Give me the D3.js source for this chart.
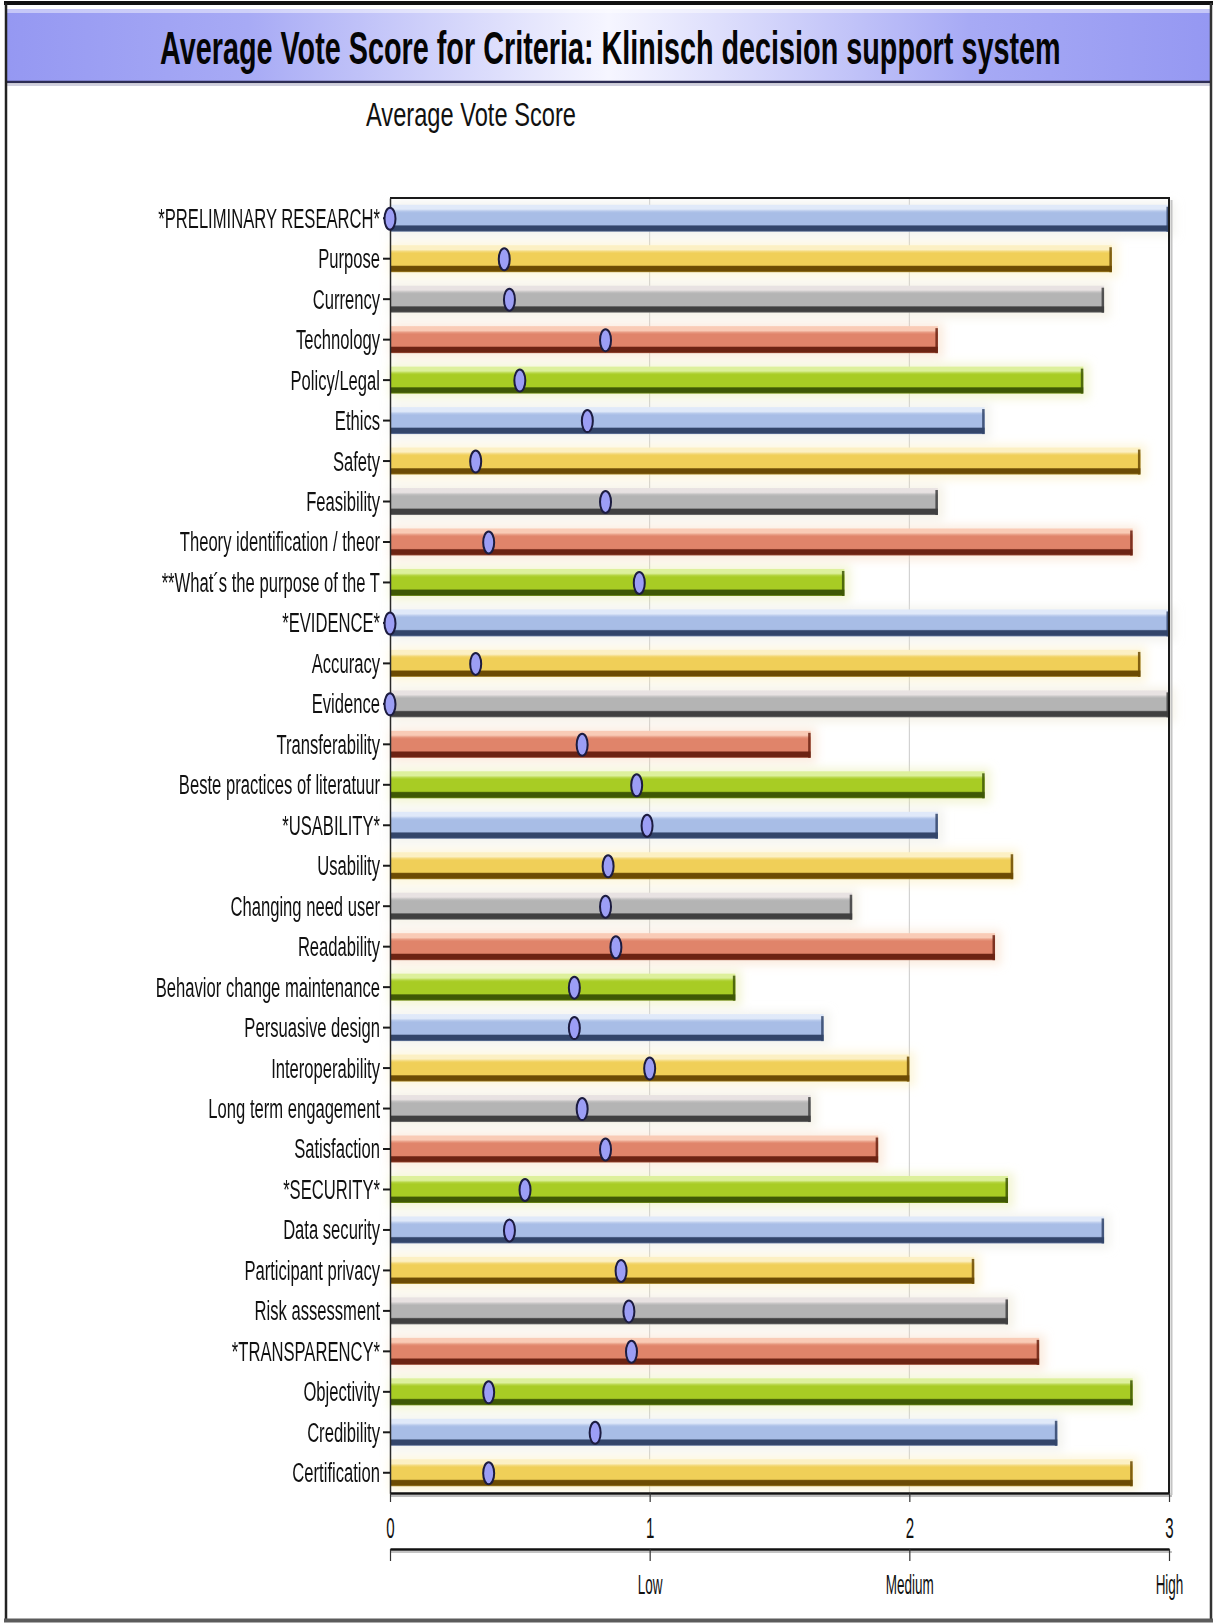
<!DOCTYPE html>
<html>
<head>
<meta charset="utf-8">
<script src="https://cdn.jsdelivr.net/npm/d3@7"></script>
<style>
  html, body { margin: 0; padding: 0; background: #ffffff; }
  svg { display: block; }
</style>
</head>
<body>
<svg id="chart" width="1217" height="1623"></svg>
<script>
// Criteria names, top to bottom
const categories = [
  "*PRELIMINARY RESEARCH*", "Purpose", "Currency", "Technology", "Policy/Legal",
  "Ethics", "Safety", "Feasibility", "Theory identification / theor",
  "**What\u00b4s the purpose of the T", "*EVIDENCE*", "Accuracy", "Evidence",
  "Transferability", "Beste practices of literatuur", "*USABILITY*", "Usability",
  "Changing need user", "Readability", "Behavior change maintenance",
  "Persuasive design", "Interoperability", "Long term engagement", "Satisfaction",
  "*SECURITY*", "Data security", "Participant privacy", "Risk assessment",
  "*TRANSPARENCY*", "Objectivity", "Credibility", "Certification"
];

// Average vote score per criterion (bar length)
const barScores = [
  3.00, 2.78, 2.75, 2.11, 2.67, 2.29, 2.89, 2.11, 2.86, 1.75,
  3.00, 2.89, 3.00, 1.62, 2.29, 2.11, 2.40, 1.78, 2.33, 1.33,
  1.67, 2.00, 1.62, 1.88, 2.38, 2.75, 2.25, 2.38, 2.50, 2.86,
  2.57, 2.86
];

// Secondary value per criterion (oval marker)
const dotScores = [
  0.00, 0.44, 0.46, 0.83, 0.50, 0.76, 0.33, 0.83, 0.38, 0.96,
  0.00, 0.33, 0.00, 0.74, 0.95, 0.99, 0.84, 0.83, 0.87, 0.71,
  0.71, 1.00, 0.74, 0.83, 0.52, 0.46, 0.89, 0.92, 0.93, 0.38,
  0.79, 0.38
];

// Axis ticks and the verbal scale underneath
const xTicks = [0, 1, 2, 3];
const levelLabels = ["", "Low", "Medium", "High"];

const titleText = "Average Vote Score for Criteria: Klinisch decision support system";
const subtitleText = "Average Vote Score";

// Bar colour cycle: highlight / body / shaded edge
const palette = [
  { light: "#e0e9f9", main: "#a8bde6", dark: "#33456a" },
  { light: "#fcf0c4", main: "#f0cf58", dark: "#6c4b04" },
  { light: "#e8e2e2", main: "#b4b4b4", dark: "#404040" },
  { light: "#f9cbb6", main: "#e0846a", dark: "#6c2313" },
  { light: "#ddf09c", main: "#a8cc24", dark: "#3f5805" }
];

const FONT = "'Liberation Sans', Arial, sans-serif";
const svg = d3.select("#chart");
const defs = svg.append("defs");

// Draw a text squeezed horizontally so that it spans exactly `width` pixels
function fitText(sel, str, x, y, width, attrs) {
  const t = sel.append("text").attr("x", 0).attr("y", 0);
  Object.entries(attrs).forEach(([k, v]) => t.attr(k, v));
  t.text(str);
  const natural = t.node().getComputedTextLength();
  t.attr("transform", `translate(${x},${y}) scale(${width / natural},1)`);
  return t;
}

// ---- frame and title band ----
const bandGrad = defs.append("linearGradient").attr("id", "titleBand")
  .attr("x1", 0).attr("x2", 1).attr("y1", 0).attr("y2", 0);
[[0, "#9598f2"], [0.2, "#a7aaf5"], [0.5, "#f6f6ff"], [0.8, "#a7aaf5"], [1, "#9598f2"]]
  .forEach(([o, c]) => bandGrad.append("stop").attr("offset", o).attr("stop-color", c));

svg.append("rect").attr("x", 7).attr("y", 9).attr("width", 1203).attr("height", 73)
  .attr("fill", "url(#titleBand)");
svg.append("rect").attr("x", 7).attr("y", 9).attr("width", 1203).attr("height", 4)
  .attr("fill", "#ffffff").attr("opacity", 0.45);
svg.append("line").attr("x1", 7).attr("x2", 1210).attr("y1", 82).attr("y2", 82)
  .attr("stroke", "#2d2d55").attr("stroke-width", 2.5);
svg.append("line").attr("x1", 7).attr("x2", 1210).attr("y1", 85).attr("y2", 85)
  .attr("stroke", "#9a9ab8").attr("stroke-width", 1.5).attr("opacity", 0.6);

// outer border
svg.append("line").attr("x1", 4).attr("x2", 1213).attr("y1", 3).attr("y2", 3)
  .attr("stroke", "#111").attr("stroke-width", 4);
svg.append("line").attr("x1", 6).attr("x2", 6).attr("y1", 3).attr("y2", 1621)
  .attr("stroke", "#222").attr("stroke-width", 2.5);
svg.append("line").attr("x1", 1211).attr("x2", 1211).attr("y1", 3).attr("y2", 1621)
  .attr("stroke", "#333").attr("stroke-width", 2.5);
svg.append("line").attr("x1", 4).attr("x2", 1213).attr("y1", 1620.5).attr("y2", 1620.5)
  .attr("stroke", "#5c5c5c").attr("stroke-width", 4);

fitText(svg, titleText, 160, 64, 901, {
  "font-family": FONT, "font-weight": "bold", "font-size": 46, "fill": "#050505"
});
fitText(svg, subtitleText, 366, 126, 210, {
  "font-family": FONT, "font-size": 33, "fill": "#111"
});

// ---- scales ----
const plot = { left: 390, right: 1169, top: 198, bottom: 1493 };
const x = d3.scaleLinear().domain([0, 3]).range([plot.left, plot.right]);
const y = d3.scaleBand().domain(categories).range([plot.top, plot.bottom])
  .paddingInner(0.333).paddingOuter(0.1665);
const bw = y.bandwidth();

const rows = categories.map((c, i) => ({
  name: c, bar: barScores[i], dot: dotScores[i], col: palette[i % palette.length], k: i % palette.length
}));

// ---- gradients and soft glow ----
palette.forEach((p, k) => {
  const g = defs.append("linearGradient").attr("id", "barGrad" + k)
    .attr("x1", 0).attr("x2", 0).attr("y1", 0).attr("y2", 1);
  const body = d3.interpolateRgb(p.main, p.light)(0.25);
  [[0, p.light], [0.16, p.light], [0.24, body], [0.30, p.main], [0.74, p.main],
   [0.79, p.dark], [0.95, p.dark], [1, d3.interpolateRgb(p.dark, p.main)(0.5)]]
    .forEach(([o, c]) => g.append("stop").attr("offset", o).attr("stop-color", c));
});
const blur = defs.append("filter").attr("id", "glow")
  .attr("x", "-5%").attr("y", "-60%").attr("width", "110%").attr("height", "220%");
blur.append("feGaussianBlur").attr("stdDeviation", 5);

// ---- grid ----
svg.append("g").selectAll("line").data([1, 2]).join("line")
  .attr("x1", d => x(d)).attr("x2", d => x(d))
  .attr("y1", plot.top).attr("y2", plot.bottom)
  .attr("stroke", "#c9c9c9").attr("stroke-width", 1);

// glow behind bars
svg.append("g").attr("filter", "url(#glow)").selectAll("rect").data(rows).join("rect")
  .attr("x", x(0))
  .attr("y", d => y(d.name) - 3)
  .attr("width", d => x(d.bar) - x(0) + 6)
  .attr("height", bw + 8)
  .attr("fill", d => d3.interpolateRgb(d.col.main, "#fff6d8")(0.7))
  .attr("opacity", 0.45);

// bars
const bars = svg.append("g");
bars.selectAll("rect.bar").data(rows).join("rect").attr("class", "bar")
  .attr("x", x(0)).attr("y", d => y(d.name))
  .attr("width", d => x(d.bar) - x(0)).attr("height", bw)
  .attr("fill", d => `url(#barGrad${d.k})`);
// shaded end cap
bars.selectAll("rect.cap").data(rows).join("rect").attr("class", "cap")
  .attr("x", d => x(d.bar) - 2.5).attr("y", d => y(d.name) + 2)
  .attr("width", 2.5).attr("height", bw - 2)
  .attr("fill", d => d.col.dark).attr("opacity", 0.85);

// ---- plot frame (top and right) ----
svg.append("line").attr("x1", plot.right + 2.5).attr("x2", plot.right + 2.5)
  .attr("y1", plot.top + 2).attr("y2", plot.bottom + 2)
  .attr("stroke", "#c4c4c4").attr("stroke-width", 2);
svg.append("path")
  .attr("d", `M${plot.left},${plot.top}H${plot.right}V${plot.bottom}`)
  .attr("fill", "none").attr("stroke", "#1a1a1a").attr("stroke-width", 2);

// ---- left axis ----
const labelScale = 0.615;
const yAxis = svg.append("g").attr("transform", `translate(${plot.left},0)`)
  .call(d3.axisLeft(y).tickSize(7).tickSizeOuter(0).tickPadding(3));
yAxis.select(".domain").attr("stroke", "#2a2a2a").attr("stroke-width", 1.5);
yAxis.selectAll(".tick line").attr("stroke", "#1a1a1a").attr("stroke-width", 2);
yAxis.selectAll(".tick text")
  .attr("font-family", FONT).attr("font-size", 27).attr("fill", "#111")
  .attr("x", -10 / labelScale).attr("dy", "0.35em")
  .attr("transform", `scale(${labelScale},1)`);

// ---- bottom numeric axis ----
svg.append("line")
  .attr("x1", plot.left).attr("x2", plot.right + 3)
  .attr("y1", plot.bottom + 3).attr("y2", plot.bottom + 3)
  .attr("stroke", "#bdbdbd").attr("stroke-width", 2);
const xAxis = svg.append("g").attr("transform", `translate(0,${plot.bottom})`)
  .call(d3.axisBottom(x).tickValues(xTicks).tickSize(9).tickSizeOuter(0).tickFormat(d3.format("d")));
xAxis.select(".domain").attr("stroke", "#111").attr("stroke-width", 2.5);
xAxis.selectAll(".tick line").attr("stroke", "#333").attr("stroke-width", 1.2);
xAxis.selectAll(".tick text")
  .attr("font-family", FONT).attr("font-size", 29).attr("fill", "#111")
  .attr("y", 45).attr("dy", 0)
  .attr("transform", "scale(0.52,1)");

// ---- bottom verbal scale ----
const levelY = 1549;
svg.append("line")
  .attr("x1", plot.left).attr("x2", plot.right + 3)
  .attr("y1", levelY + 3).attr("y2", levelY + 3)
  .attr("stroke", "#c4c4c4").attr("stroke-width", 2);
const lAxis = svg.append("g").attr("transform", `translate(0,${levelY})`)
  .call(d3.axisBottom(x).tickValues(xTicks).tickSize(12).tickSizeOuter(0)
    .tickFormat((d, i) => levelLabels[i]));
lAxis.select(".domain").attr("stroke", "#111").attr("stroke-width", 2.5);
lAxis.selectAll(".tick line").attr("stroke", "#333").attr("stroke-width", 1.2);
lAxis.selectAll(".tick text")
  .attr("font-family", FONT).attr("font-size", 27).attr("fill", "#111")
  .attr("y", 45).attr("dy", 0)
  .attr("transform", "scale(0.5,1)");

// ---- oval markers ----
svg.append("g").selectAll("ellipse").data(rows).join("ellipse")
  .attr("cx", d => x(d.dot))
  .attr("cy", d => y(d.name) + bw / 2 + 0.5)
  .attr("rx", 5.5).attr("ry", 11)
  .attr("fill", "#9c9ef5").attr("stroke", "#1c1c40").attr("stroke-width", 2);
</script>
</body>
</html>
